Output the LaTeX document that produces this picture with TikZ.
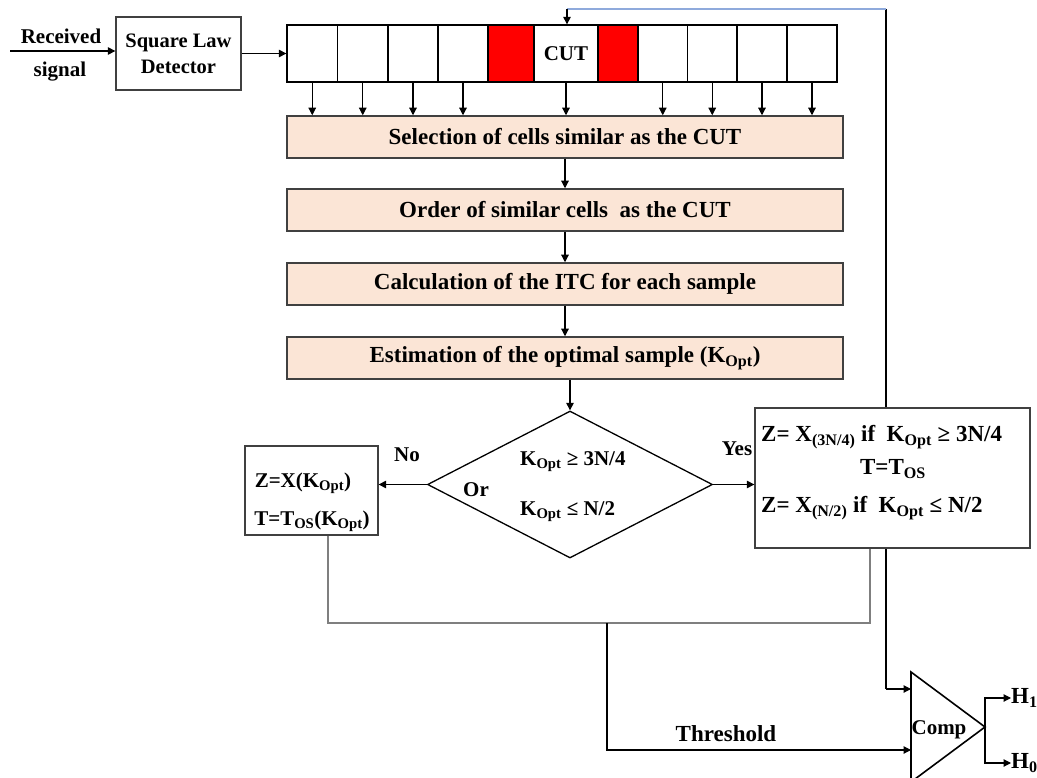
\documentclass[tikz,border=0pt]{standalone}
\usepackage{fontspec}
\setmainfont{Liberation Serif}
\usetikzlibrary{arrows.meta,shapes.geometric,calc}
\pgfdeclarelayer{bg}
\pgfsetlayers{bg,main}
\definecolor{peach}{HTML}{FBE5D6}
\definecolor{topblue}{HTML}{8FAADC}
\definecolor{lgray}{HTML}{7F7F7F}
\definecolor{dgray}{HTML}{404040}
\begin{document}
\begin{tikzpicture}[x=1pt,y=-1pt,
  font=\fontsize{21}{25}\selectfont\bfseries,
  big/.style={font=\fontsize{23}{27}\selectfont\bfseries},
  arr/.style={line width=1.1pt,-{Triangle[length=7.5pt,width=7.5pt]}},
  ln/.style={line width=1.1pt},
  cell/.style={draw=black,line width=1.3pt,minimum height=57,inner sep=0},
  proc/.style={draw=dgray,fill=peach,line width=1.5pt,minimum width=556,minimum height=42,inner sep=0,big},
  box/.style={draw=dgray,fill=white,line width=1.3pt,inner sep=0},
  txt/.style={inner sep=0}]
\useasboundingbox (0,0) rectangle (1037,778);

% input
\coordinate (in) at (10,51);
\node[txt] (recv1) at (61,36) {Received};
\node[txt] (recv2) at (60,72) {signal};
\node[box,minimum width=125,minimum height=73,align=center,font=\fontsize{20.5}{26}\selectfont\bfseries] (sld) at (178.5,53.5) {Square Law\\Detector};
\draw[arr] (in) -- (in -| sld.west);

% cells
\foreach \i/\a/\b/\f in {1/287/337.5/white,2/337.5/388/white,3/388/438/white,4/438/488/white,5/488/534/red,6/534/598/white,7/598/638/red,8/638/687.5/white,9/687.5/737/white,10/737/787/white,11/787/837/white}
  {\node[cell,fill=\f,minimum width={\b-\a}] (c\i) at ({(\a+\b)/2},53.5) {};}
\node[txt] (cut) at (c6) {CUT};
\draw[arr] (sld.east) -- (c1.west);

% process boxes
\node[proc] (sel) at (565,137) {Selection of cells similar as the CUT};
\node[proc] (ord) at (565,210) {Order of similar cells~ as the CUT};
\node[proc] (calc) at (565,284) {Calculation of the ITC for each sample};
\node[proc] (est) at (565,358) {Estimation of the optimal sample (K\textsubscript{Opt})};

\foreach \i in {1,2,3,4,6,8,9,10,11}
  {\draw[arr] (c\i.south) -- (c\i.south |- sel.north);}
\draw[arr] (sel) -- (ord);
\draw[arr] (ord) -- (calc);
\draw[arr] (calc) -- (est);

% decision
\node[diamond,draw=black,line width=1.3pt,minimum width=285,minimum height=147,inner sep=0] (dia) at (570,484.5) {};
\draw[arr] (est.south -| dia.north) -- (dia.north);
\node[txt,anchor=west] (d1) at (520,462) {K\textsubscript{Opt} ≥ 3N/4};
\node[txt,anchor=west] (d2) at (520,512) {K\textsubscript{Opt} ≤ N/2};
\node[txt] (or) at (476,490) {Or};
\node[txt] (no) at (407,455) {No};
\node[txt] (yes) at (737,449) {Yes};

% left box
\node[box,minimum width=133,minimum height=89] (lbox) at (311.5,490.5) {};
\node[txt] (l1) at (303,483) {Z=X(K\textsubscript{Opt})};
\node[txt] (l2) at (312,521) {T=T\textsubscript{OS}(K\textsubscript{Opt})};
\draw[arr] (dia.west) -- (dia.west -| lbox.east);

% right box
\node[box,minimum width=275,minimum height=140] (rbox) at (892.5,478) {};
\node[txt,anchor=west,big] (r1) at (761,437) {Z= X\textsubscript{(3N/4)} if\ \ K\textsubscript{Opt} ≥ 3N/4};
\node[txt,big] (r2) at (893,469) {T=T\textsubscript{OS}};
\node[txt,anchor=west,big] (r3) at (761,508) {Z= X\textsubscript{(N/2)} if\ \ K\textsubscript{Opt} ≤ N/2};
\draw[arr] (dia.east) -- (dia.east -| rbox.west);

% comparator
\coordinate (cmpT) at (911,672);
\coordinate (cmpTip) at (985,727);
\coordinate (cmpB) at (911,782);
\draw[line width=1.6pt] (cmpT) -- (cmpTip) -- (cmpB) -- cycle;
\node[txt] (comp) at (939,730) {Comp};
\node[txt,anchor=west,big] (h1) at (1011,698) {H\textsubscript{1}};
\node[txt,anchor=west,big] (h0) at (1011,763) {H\textsubscript{0}};
\draw[arr] (cmpTip) |- (h1.west);
\draw[arr] (cmpTip) |- (h0.west);

% feedback to CUT and comparator
\coordinate (fbtop) at (886,9);
\coordinate (fbcut) at (567,9);
\coordinate (fbc) at (886,689);
\begin{pgfonlayer}{bg}
\draw[ln] (fbtop) -- (fbc);
\end{pgfonlayer}
\draw[ln,topblue] (fbtop) -- (fbcut);
\draw[arr] (fbcut) -- (fbcut |- c6.north);
\draw[arr] (fbc) -- (fbc -| cmpT);

% threshold
\coordinate (g1) at (328,623);
\coordinate (g2) at (870,623);
\coordinate (g3) at (607,623);
\coordinate (thr) at (911,750);
\draw[ln,lgray] (g1 |- lbox.south) -- (g1) -- (g2) -- (g2 |- rbox.south);
\draw[arr] (g3) |- (thr);
\node[txt,big] (thl) at (726,734) {Threshold};
\end{tikzpicture}
\end{document}
